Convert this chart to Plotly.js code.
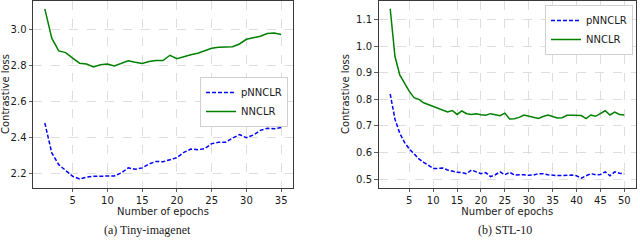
<!DOCTYPE html>
<html>
<head>
<meta charset="utf-8">
<script src="https://cdn.plot.ly/plotly-3.0.1.min.js"></script>
<style>html,body{margin:0;padding:0;background:#fff;}#chart{width:640px;height:248px;}</style>
</head>
<body>
<div id="chart"></div>
<script>
// Tiny-imagenet (35 epochs)
const epochsA = Array.from({length: 35}, (_, i) => i + 1);
const pnnclrA = [2.482, 2.315, 2.25, 2.218, 2.185, 2.17, 2.18, 2.185, 2.185, 2.187,
  2.187, 2.204, 2.232, 2.224, 2.232, 2.254, 2.268, 2.266, 2.278, 2.289,
  2.318, 2.337, 2.333, 2.339, 2.367, 2.374, 2.374, 2.398, 2.417, 2.40,
  2.415, 2.441, 2.452, 2.45, 2.457];
const nnclrA = [3.117, 2.954, 2.883, 2.874, 2.843, 2.815, 2.81, 2.794, 2.806, 2.81,
  2.80, 2.813, 2.828, 2.82, 2.813, 2.824, 2.83, 2.83, 2.859, 2.84,
  2.853, 2.862, 2.87, 2.885, 2.898, 2.903, 2.905, 2.907, 2.922, 2.948,
  2.957, 2.965, 2.98, 2.983, 2.975];

// STL-10 (50 epochs)
const epochsB = Array.from({length: 50}, (_, i) => i + 1);
const pnnclrB = [0.820, 0.725, 0.672, 0.638, 0.613, 0.594, 0.576, 0.563, 0.55, 0.54,
  0.54, 0.541, 0.534, 0.528, 0.525, 0.524, 0.52, 0.534, 0.528, 0.52,
  0.524, 0.509, 0.516, 0.527, 0.516, 0.525, 0.515, 0.516, 0.516, 0.514,
  0.515, 0.52, 0.52, 0.516, 0.514, 0.513, 0.513, 0.514, 0.515, 0.512,
  0.503, 0.512, 0.52, 0.516, 0.517, 0.527, 0.512, 0.527, 0.522, 0.52];
const nnclrB = [1.141, 0.961, 0.892, 0.861, 0.830, 0.806, 0.80, 0.787, 0.78, 0.774,
  0.766, 0.759, 0.752, 0.758, 0.743, 0.756, 0.746, 0.743, 0.746, 0.742,
  0.740, 0.746, 0.741, 0.738, 0.748, 0.726, 0.727, 0.732, 0.741, 0.736,
  0.733, 0.728, 0.735, 0.741, 0.735, 0.730, 0.731, 0.740, 0.740, 0.740,
  0.739, 0.727, 0.741, 0.736, 0.747, 0.757, 0.741, 0.752, 0.743, 0.741];

const xTicksA = [5, 10, 15, 20, 25, 30, 35];
const yTicksA = [2.2, 2.4, 2.6, 2.8, 3.0];
const xTicksB = [5, 10, 15, 20, 25, 30, 35, 40, 45, 50];
const yTicksB = [0.5, 0.6, 0.7, 0.8, 0.9, 1.0, 1.1];
const seriesNames = ['pNNCLR', 'NNCLR'];
const captions = ['(a) Tiny-imagenet', '(b) STL-10'];
const xTitle = 'Number of epochs';
const yTitle = 'Contrastive loss';

const FONT = 'DejaVu Sans, sans-serif';
const blue = '#0000ff', green = '#008000';

const traces = [
  {x: epochsA, y: pnnclrA, name: seriesNames[0], mode: 'lines', line: {color: blue, width: 1.5, dash: '4px,2px'}, xaxis: 'x', yaxis: 'y', legend: 'legend'},
  {x: epochsA, y: nnclrA, name: seriesNames[1], mode: 'lines', line: {color: green, width: 1.5}, xaxis: 'x', yaxis: 'y', legend: 'legend'},
  {x: epochsB, y: pnnclrB, name: seriesNames[0], mode: 'lines', line: {color: blue, width: 1.5, dash: '4px,2px'}, xaxis: 'x2', yaxis: 'y2', legend: 'legend2'},
  {x: epochsB, y: nnclrB, name: seriesNames[1], mode: 'lines', line: {color: green, width: 1.5}, xaxis: 'x2', yaxis: 'y2', legend: 'legend2'}
];

function ax(extra) {
  return Object.assign({
    showline: true, mirror: true, linecolor: '#3a3a3a', linewidth: 1,
    ticks: 'outside', ticklen: 3.5, tickwidth: 0.8, tickcolor: '#3a3a3a',
    showgrid: true, gridcolor: '#d6d6d6', griddash: 'dash', gridwidth: 0.8,
    zeroline: false, automargin: false,
    tickfont: {family: FONT, size: 10, color: '#1a1a1a'}
  }, extra);
}

const W = 640, H = 248;
const layout = {
  width: W, height: H,
  margin: {l: 0, r: 0, t: 0, b: 0},
  paper_bgcolor: '#fff', plot_bgcolor: '#fff',
  font: {family: FONT, size: 10, color: '#1a1a1a'},
  showlegend: true,
  xaxis: ax({domain: [33/W, 293/W], range: [-0.7, 36.7], tickvals: xTicksA, anchor: 'y',
    title: {text: xTitle, font: {family: FONT, size: 10, color: '#1a1a1a'}, standoff: 0}}),
  yaxis: ax({domain: [1 - 187.5/H, 1 - 0.5/H], range: [2.1227, 3.164], tickvals: yTicksA, tickformat: '.1f', anchor: 'x',
    title: {text: yTitle, font: {family: FONT, size: 10, color: '#1a1a1a'}, standoff: 4}}),
  xaxis2: ax({domain: [378.5/W, 636/W], range: [-1.45, 52.45], tickvals: xTicksB, anchor: 'y2',
    title: {text: xTitle, font: {family: FONT, size: 10, color: '#1a1a1a'}, standoff: 0}}),
  yaxis2: ax({domain: [1 - 187.5/H, 1 - 0.5/H], range: [0.468, 1.172], tickvals: yTicksB, tickformat: '.1f', anchor: 'x2',
    title: {text: yTitle, font: {family: FONT, size: 10, color: '#1a1a1a'}, standoff: 4}}),
  legend: {x: 288/W, y: 1 - 77/H, xanchor: 'right', yanchor: 'top', bgcolor: 'rgba(255,255,255,0.9)',
    bordercolor: '#d0d0d0', borderwidth: 1, font: {family: FONT, size: 10, color: '#1a1a1a'},
    tracegroupgap: 0, itemwidth: 30},
  legend2: {x: 633/W, y: 1 - 5/H, xanchor: 'right', yanchor: 'top', bgcolor: 'rgba(255,255,255,0.9)',
    bordercolor: '#d0d0d0', borderwidth: 1, font: {family: FONT, size: 10, color: '#1a1a1a'},
    tracegroupgap: 0, itemwidth: 30},
  annotations: [
    {text: captions[0], xref: 'paper', yref: 'paper', x: 147/W, y: 1 - 230/H, xanchor: 'center', yanchor: 'middle', showarrow: false,
      font: {family: 'Liberation Serif, Times New Roman, serif', size: 12, color: '#1a1a1a'}},
    {text: captions[1], xref: 'paper', yref: 'paper', x: 505/W, y: 1 - 230/H, xanchor: 'center', yanchor: 'middle', showarrow: false,
      font: {family: 'Liberation Serif, Times New Roman, serif', size: 12, color: '#1a1a1a'}}
  ]
};

Plotly.newPlot('chart', traces, layout, {staticPlot: true, displayModeBar: false});
</script>
</body>
</html>
